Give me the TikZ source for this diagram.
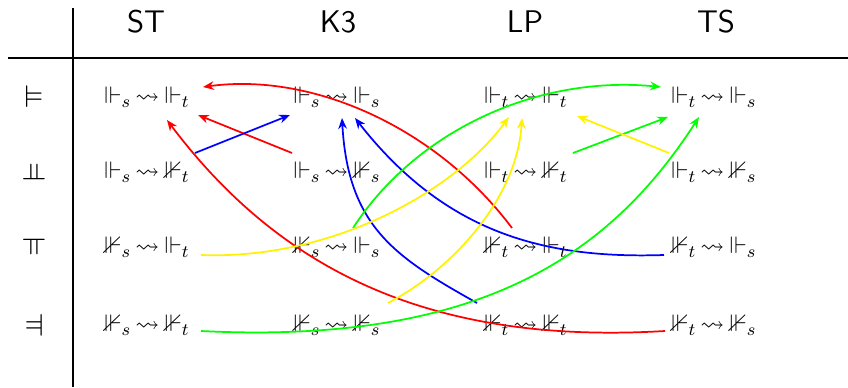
\documentclass[tikz,border=0pt]{standalone}
\usepackage{amssymb}
\usepackage{graphicx}
\usetikzlibrary{arrows.meta}
\newcommand{\lto}{\mkern3mu\rightsquigarrow\mkern4mu}
\begin{document}
\begin{tikzpicture}[x=0.46pt,y=-0.46pt,
  ent/.style={inner sep=0pt,font=\fontsize{11}{13}\selectfont},
  hdr/.style={font=\sffamily\Large},
  rowlab/.style={inner sep=0pt,font=\Large},
  arr/.style={thick,-{Stealth[length=5pt,width=4pt]}},
  frame/.style={line width=0.5pt}]
\useasboundingbox (0,0) rectangle (848,387);
% frame lines
\coordinate (hl) at (8,58); \coordinate (hr) at (848,58);
\coordinate (vt) at (73,8); \coordinate (vb) at (73,387);
\draw[frame] (hl) -- (hr);
\draw[frame] (vt) -- (vb);
% headers
\node[hdr] (h1) at (146,22) {ST};
\node[hdr] (h2) at (338,22) {K3};
\node[hdr] (h3) at (525,22) {LP};
\node[hdr] (h4) at (716,22) {TS};
% row labels
\node[rowlab] (r1) at (34,97) {$\vDash$};
\node[rowlab] (r2) at (34,172) {\rotatebox{90}{$\vDash$}};
\node[rowlab] (r3) at (34,247) {\rotatebox{-90}{$\vDash$}};
\node[rowlab] (r4) at (34,325) {\rotatebox{180}{$\vDash$}};
% entries
\node[ent] (e11) at (147,97) {$\Vdash_s\lto\Vdash_t$};
\node[ent] (e21) at (147,172) {$\Vdash_s\lto\nVdash_t$};
\node[ent] (e31) at (147,247) {$\nVdash_s\lto\Vdash_t$};
\node[ent] (e41) at (147,325) {$\nVdash_s\lto\nVdash_t$};
\node[ent] (e12) at (337,97) {$\Vdash_s\lto\Vdash_s$};
\node[ent] (e22) at (337,172) {$\Vdash_s\lto\nVdash_s$};
\node[ent] (e32) at (337,247) {$\nVdash_s\lto\Vdash_s$};
\node[ent] (e42) at (337,325) {$\nVdash_s\lto\nVdash_s$};
\node[ent] (e13) at (526,97) {$\Vdash_t\lto\Vdash_t$};
\node[ent] (e23) at (526,172) {$\Vdash_t\lto\nVdash_t$};
\node[ent] (e33) at (526,247) {$\nVdash_t\lto\Vdash_t$};
\node[ent] (e43) at (526,325) {$\nVdash_t\lto\nVdash_t$};
\node[ent] (e14) at (714,97) {$\Vdash_t\lto\Vdash_s$};
\node[ent] (e24) at (714,172) {$\Vdash_t\lto\nVdash_s$};
\node[ent] (e34) at (714,247) {$\nVdash_t\lto\Vdash_s$};
\node[ent] (e44) at (714,325) {$\nVdash_t\lto\nVdash_s$};
% red
\draw[arr,red] ([shift={(-14,-19)}]e33.center) .. controls +(-75,-100) and +(110,-15) .. ([shift={(56,-10)}]e11.center);
\draw[arr,red] ([shift={(-45,-19)}]e22.center) -- ([shift={(51,18)}]e11.center);
\draw[arr,red] ([shift={(-49,6)}]e44.center) .. controls +(-235,14) and +(113,150) .. ([shift={(20,23)}]e11.center);
% blue
\draw[arr,blue] ([shift={(48,-19)}]e21.center) -- ([shift={(-47,18)}]e12.center);
\draw[arr,blue] ([shift={(-49,-22)}]e43.center) .. controls +(-80,-45) and +(6,110) .. ([shift={(5,21)}]e12.center);
\draw[arr,blue] ([shift={(-50,8)}]e34.center) .. controls +(-120,4) and +(90,115) .. ([shift={(18,21)}]e12.center);
% green
\draw[arr,green] ([shift={(16,-19)}]e32.center) .. controls +(65,-100) and +(-120,-12) .. ([shift={(-53,-10)}]e14.center);
\draw[arr,green] ([shift={(47,-19)}]e23.center) -- ([shift={(-46,20)}]e14.center);
\draw[arr,green] ([shift={(54,6)}]e41.center) .. controls +(279,14) and +(-89,138) .. ([shift={(-15,20)}]e14.center);
% yellow
\draw[arr,yellow] ([shift={(54,8)}]e31.center) .. controls +(130,5) and +(-55,75) .. ([shift={(-17,20)}]e13.center);
\draw[arr,yellow] ([shift={(51,-22)}]e42.center) .. controls +(65,-34) and +(-5,80) .. ([shift={(-4,21)}]e13.center);
\draw[arr,yellow] ([shift={(-45,-19)}]e24.center) -- ([shift={(51,19)}]e13.center);
\end{tikzpicture}
\end{document}
